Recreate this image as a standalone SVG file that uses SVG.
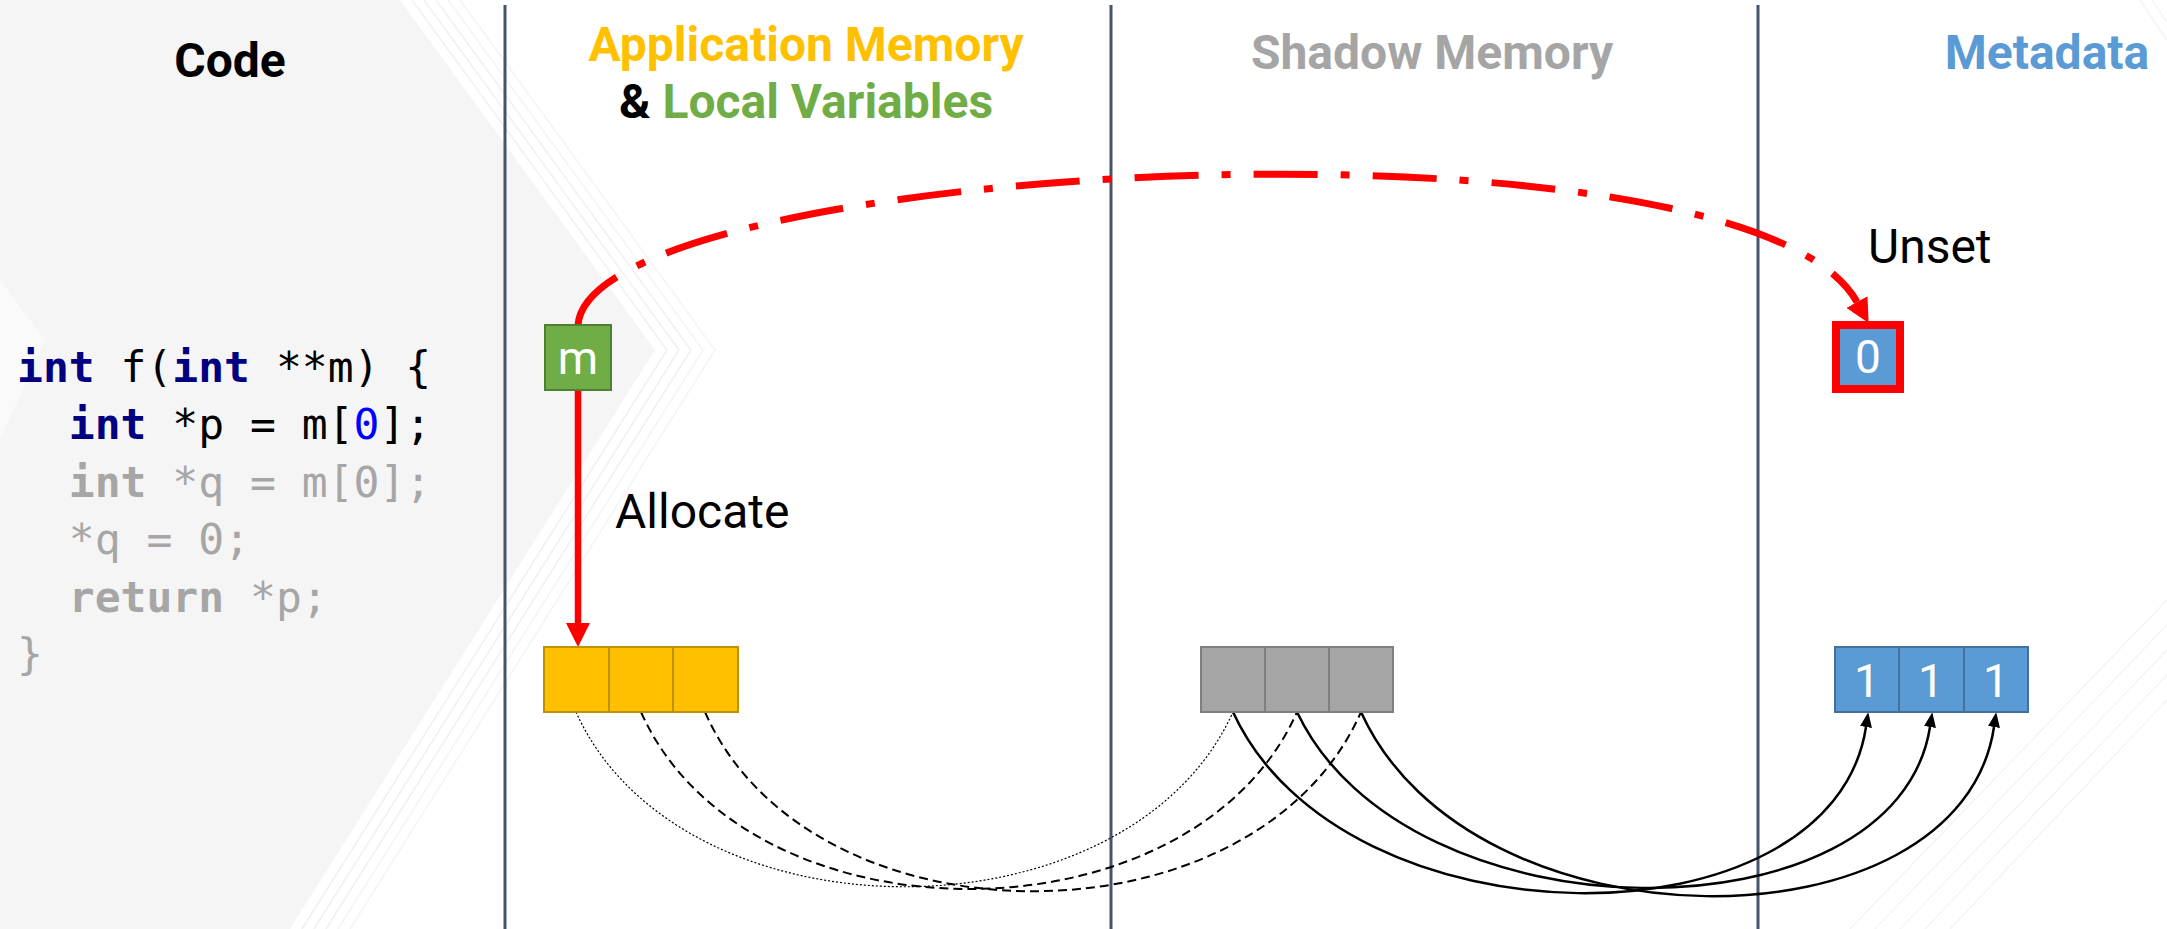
<svg xmlns="http://www.w3.org/2000/svg" width="2167" height="929" viewBox="0 0 2167 929">
<style>
.hdr{font-family:Roboto,"Liberation Sans",sans-serif;font-weight:bold;font-size:48px;text-anchor:middle}
.lbl{font-family:Roboto,"Liberation Sans",sans-serif;font-size:48px;fill:#000}
.cell-txt{font-family:Roboto,"Liberation Sans",sans-serif;font-size:46px;fill:#fff;text-anchor:middle}
.code{font-family:"DejaVu Sans Mono","Liberation Mono",monospace;font-size:43px;white-space:pre}
.kw{fill:#000080;font-weight:bold}
.gr{fill:#A6A6A6}
.grb{fill:#A6A6A6;font-weight:bold}
.app{fill:#FFC000;stroke:#BF9000;stroke-width:2}
.shd{fill:#A5A5A5;stroke:#7F7F7F;stroke-width:2}
.meta{fill:#5B9BD5;stroke:#41719C;stroke-width:2}
.sep{stroke:#44546A;stroke-width:3}
.stripe{fill:none;stroke:#f0f0f0;stroke-width:1.5}
.stripe2{fill:none;stroke:#f4f4f4;stroke-width:1.5}
.dot{fill:none;stroke:#000;stroke-width:1.2;stroke-dasharray:2 2}
.dash{fill:none;stroke:#000;stroke-width:2;stroke-dasharray:9 5}
.solid{fill:none;stroke:#000;stroke-width:2.5}
</style>
<defs>
<marker id="redArrow" markerUnits="userSpaceOnUse" markerWidth="24" markerHeight="24" viewBox="0 0 24 24" refX="0" refY="12" orient="auto">
<path d="M0,0 L24,12 L0,24 z" fill="#FF0000"/>
</marker>
<marker id="blkArrow" markerUnits="userSpaceOnUse" markerWidth="15" markerHeight="12" viewBox="0 0 15 12" refX="0" refY="6" orient="auto">
<path d="M0,0 L15,6 L0,12 z" fill="#000"/>
</marker>
</defs>

<g id="background">
<rect x="0" y="0" width="2167" height="929" fill="#ffffff"/>
<polygon points="0,0 400,0 655,350 290,929 0,929" fill="#f5f5f5"/>
<polygon points="0,280 45,340 0,440" fill="#fafafa"/>
<polyline class="stripe" points="412,0 667,350 302,929"/>
<polyline class="stripe" points="424,0 679,350 314,929"/>
<polyline class="stripe" points="436,0 691,350 326,929"/>
<polyline class="stripe2" points="448,0 703,350 338,929"/>
<polyline class="stripe2" points="460,0 715,350 350,929"/>
<line class="stripe2" x1="2167" y1="600" x2="1850" y2="929"/>
<line class="stripe2" x1="2167" y1="625" x2="1875" y2="929"/>
<line class="stripe2" x1="2167" y1="650" x2="1900" y2="929"/>
<line class="stripe2" x1="2167" y1="675" x2="1925" y2="929"/>
<line class="stripe2" x1="2167" y1="700" x2="1950" y2="929"/>
<line class="stripe2" x1="2140" y1="0" x2="2167" y2="40"/>
<line class="stripe2" x1="2152" y1="0" x2="2167" y2="22"/>
</g>

<g id="separators">
<line class="sep" x1="505" y1="5" x2="505" y2="929"/>
<line class="sep" x1="1111" y1="5" x2="1111" y2="929"/>
<line class="sep" x1="1758" y1="5" x2="1758" y2="929"/>
</g>

<g id="headers">
<text class="hdr" x="230" y="77" fill="#000">Code</text>
<text class="hdr" x="806" y="61" fill="#FFC000">Application Memory</text>
<text class="hdr" x="806" y="118"><tspan fill="#000">&amp; </tspan><tspan fill="#70AD47">Local Variables</tspan></text>
<text class="hdr" x="1432" y="69" fill="#A5A5A5">Shadow Memory</text>
<text class="hdr" x="2047" y="69" fill="#5B9BD5">Metadata</text>
</g>

<g id="code">
<text class="code" x="17" y="382"><tspan class="kw">int</tspan> f(<tspan class="kw">int</tspan> **m) {</text>
<text class="code" x="17" y="439">  <tspan class="kw">int</tspan> *p = m[<tspan fill="#0000FF">0</tspan>];</text>
<text class="code gr" x="17" y="497">  <tspan class="grb">int</tspan> *q = m[0];</text>
<text class="code gr" x="17" y="554">  *q = 0;</text>
<text class="code gr" x="17" y="612">  <tspan class="grb">return</tspan> *p;</text>
<text class="code gr" x="17" y="669">}</text>
</g>

<g id="connectors">
<path class="dot" d="M576,712 C681,945 1128,945 1233,712"/>
<path class="dash" d="M641,712 C746,948 1192,948 1297,712"/>
<path class="dash" d="M705,712 C810,951 1256,951 1361,712"/>
<path class="solid" d="M1233,712 C1343,951 1832,951 1866,727" marker-end="url(#blkArrow)"/>
<path class="solid" d="M1297,712 C1407,944 1896,944 1930,727" marker-end="url(#blkArrow)"/>
<path class="solid" d="M1361,712 C1471,955 1960,955 1994,727" marker-end="url(#blkArrow)"/>
<line x1="578" y1="390" x2="578" y2="623" stroke="#FF0000" stroke-width="6.5" marker-end="url(#redArrow)"/>
<path d="M578,325 C590,160 1745,100 1857,302" fill="none" stroke="#FF0000" stroke-width="7" stroke-dasharray="64 23 9 23" marker-end="url(#redArrow)"/>
</g>

<g id="node-m">
<rect x="545" y="325" width="66" height="65" fill="#70AD47" stroke="#507E32" stroke-width="2"/>
<text class="cell-txt" x="578" y="374" font-size="48">m</text>
</g>

<g id="node-app-memory">
<rect class="app" x="544" y="647" width="65" height="65"/>
<rect class="app" x="609" y="647" width="64" height="65"/>
<rect class="app" x="673" y="647" width="65" height="65"/>
</g>

<g id="node-shadow-memory">
<rect class="shd" x="1201" y="647" width="64" height="65"/>
<rect class="shd" x="1265" y="647" width="64" height="65"/>
<rect class="shd" x="1329" y="647" width="64" height="65"/>
</g>

<g id="node-metadata">
<rect class="meta" x="1835" y="647" width="64" height="65"/>
<rect class="meta" x="1899" y="647" width="65" height="65"/>
<rect class="meta" x="1964" y="647" width="64" height="65"/>
<text class="cell-txt" x="1867" y="697">1</text>
<text class="cell-txt" x="1931" y="697">1</text>
<text class="cell-txt" x="1996" y="697">1</text>
</g>

<g id="node-unset">
<rect x="1836" y="325" width="64" height="64" fill="#5B9BD5" stroke="#FF0000" stroke-width="8"/>
<text class="cell-txt" x="1868" y="373">0</text>
</g>

<g id="labels">
<text class="lbl" x="615" y="528">Allocate</text>
<text class="lbl" x="1868" y="263">Unset</text>
</g>
</svg>
